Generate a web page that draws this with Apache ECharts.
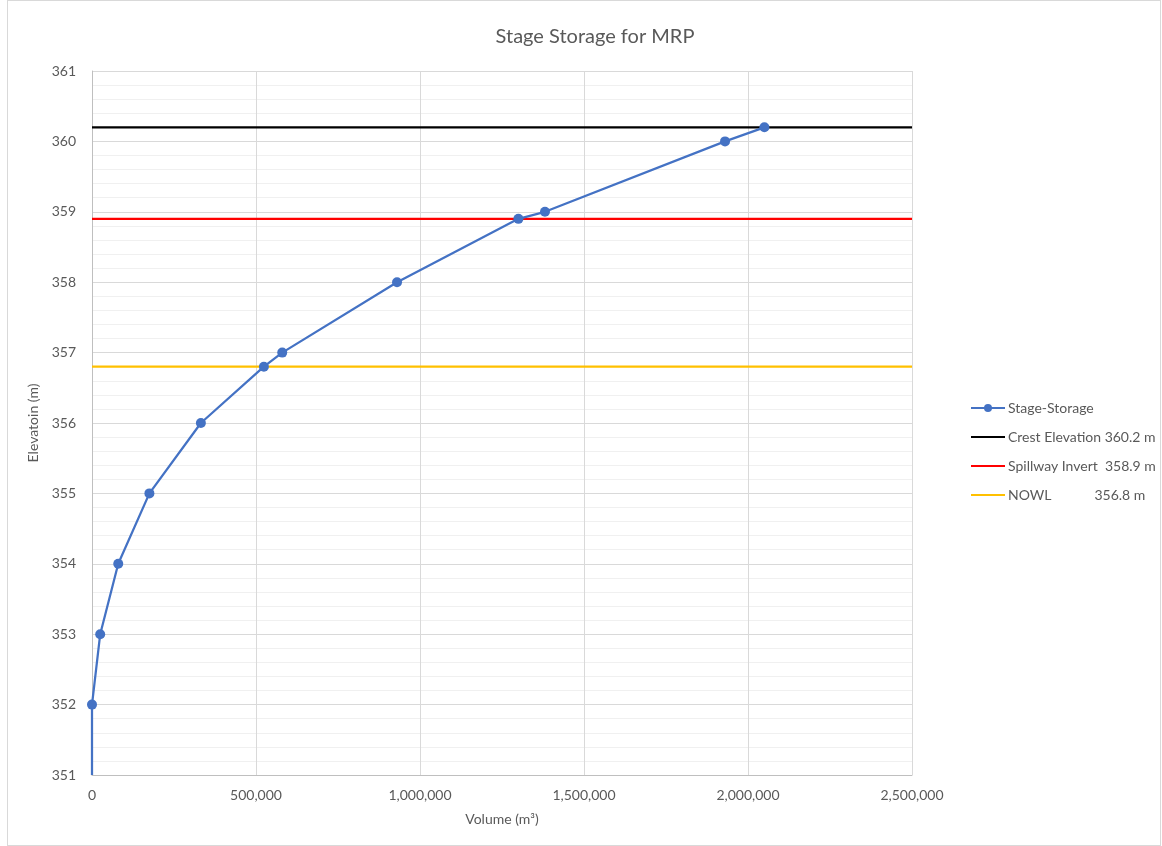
<!DOCTYPE html>
<html><head><meta charset="utf-8">
<script src="https://cdn.jsdelivr.net/npm/echarts@6/dist/echarts.min.js"></script>
<style>
html,body{margin:0;padding:0;background:#fff;}
#frame{position:absolute;left:7px;top:0;width:1152px;height:844px;border:1px solid #d9d9d9;}
#c{position:absolute;left:0;top:0;width:1162px;height:846px;}
</style></head>
<body><div id="frame"></div><div id="c"></div>
<script>
const volumes = [0, 0, 25000, 80000, 175000, 332000, 524000, 580000, 930000, 1300000, 1381000, 1930000, 2050000];
const elevations = [351, 352, 353, 354, 355, 356, 356.8, 357, 358, 358.9, 359, 360, 360.2];
const levelNames = ['Crest Elevation 360.2 m', 'Spillway Invert  358.9 m', 'NOWL            356.8 m'];
const levelValues = [360.2, 358.9, 356.8];
const levelColors = ['#000000', '#ff0000', '#ffc000'];
const xRange = [0, 2500000];

const font = 'Lato, "Open Sans", sans-serif';
const chart = echarts.init(document.getElementById('c'));
const stageData = volumes.map((v, i) => i === 0 ? {value: [v, elevations[i]], symbol: 'none'} : [v, elevations[i]]);
const series = [{
  name: 'Stage-Storage', type: 'line', data: stageData,
  symbol: 'circle', symbolSize: 10,
  itemStyle: {color: '#4472c4'}, lineStyle: {color: '#4472c4', width: 2.25},
  z: 5
}];
levelNames.forEach((n, i) => {
  series.push({
    name: n, type: 'line', symbol: 'none',
    data: xRange.map(x => [x, levelValues[i]]),
    lineStyle: {color: levelColors[i], width: 2.25}, itemStyle: {color: levelColors[i]},
    z: 3
  });
});
chart.setOption({
  animation: false,
  title: {text: 'Stage Storage for MRP', left: 590, top: 22, textAlign: 'center',
    textStyle: {fontFamily: font, fontSize: 20, fontWeight: 'normal', color: '#595959'}},
  grid: {left: 92, right: 250, top: 71, bottom: 71},
  legend: {
    orient: 'vertical', left: 965, top: 396, itemGap: 15, itemWidth: 34, itemHeight: 10,
    textStyle: {fontFamily: font, fontSize: 14, color: '#595959', padding: [0, 0, 0, -2]},
    data: ['Stage-Storage'].concat(levelNames).map(n => ({name: n, icon: n === 'Stage-Storage' ? undefined : 'path://M0,4 L34,4 L34,6 L0,6 Z'}))
  },
  xAxis: {
    type: 'value', min: 0, max: 2500000, interval: 500000,
    name: 'Volume (m³)', nameLocation: 'middle', nameGap: 37,
    nameTextStyle: {fontFamily: font, fontSize: 14, color: '#595959'},
    axisLine: {show: true, lineStyle: {color: '#bfbfbf'}},
    axisTick: {show: false},
    axisLabel: {fontFamily: font, fontSize: 14, color: '#595959', margin: 13,
      formatter: v => v.toLocaleString('en-US')},
    splitLine: {show: true, lineStyle: {color: '#d9d9d9', width: 1}}
  },
  yAxis: {
    type: 'value', min: 351, max: 361, interval: 1,
    name: 'Elevatoin (m)', nameLocation: 'middle', nameGap: 46, nameRotate: 90,
    nameTextStyle: {fontFamily: font, fontSize: 14, color: '#595959'},
    axisLine: {show: true, lineStyle: {color: '#bfbfbf'}},
    axisTick: {show: false},
    axisLabel: {fontFamily: font, fontSize: 14, color: '#595959', margin: 16},
    splitLine: {show: true, lineStyle: {color: '#d9d9d9', width: 1}},
    minorTick: {show: false, splitNumber: 5},
    minorSplitLine: {show: true, lineStyle: {color: '#f0f0f0', width: 1}}
  },
  series: series
});
</script></body></html>
